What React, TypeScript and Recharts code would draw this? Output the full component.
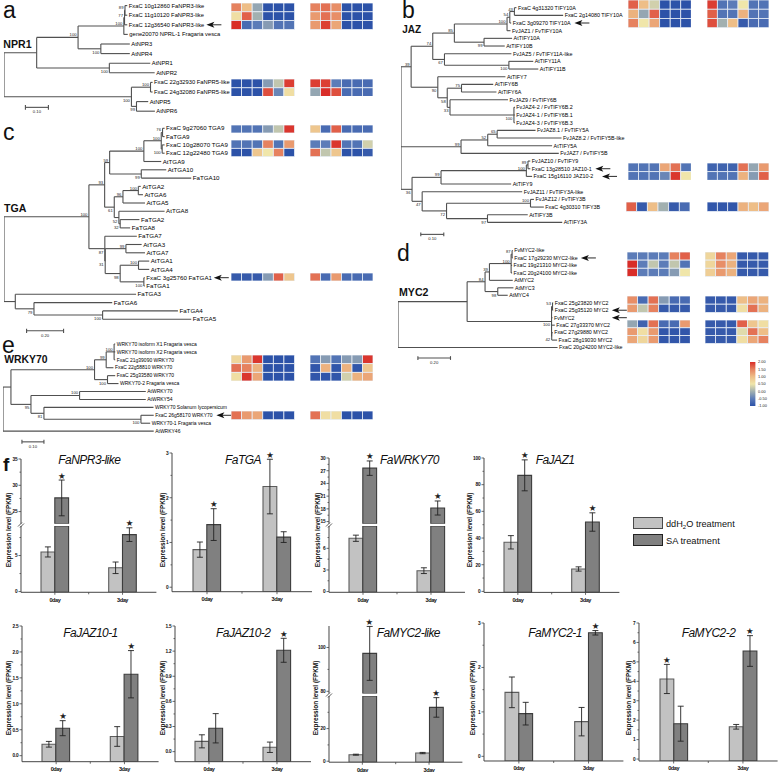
import React from "react";
import {
  BarChart,
  Bar,
  ErrorBar,
  XAxis,
  YAxis,
  ReferenceDot,
  ReferenceLine,
  Scatter,
  ScatterChart,
} from "recharts";

const FONT = '"Liberation Sans", Arial, sans-serif';

type TreeNode = { len: number; name?: string; boot?: number; kids?: TreeNode[] };
const L = (name: string, len: number): TreeNode => ({ name, len });
const N = (len: number, boot: number | undefined, ...kids: TreeNode[]): TreeNode => ({ len, boot, kids });

// branch lengths are in 0.001 substitutions per site, read against each scale bar
const npr1Tree = [
  N(142, undefined,
    N(180, 100,
      N(199, 100,
        N(3, 77,
          N(2, 89, L("FxaC 10g12860 FaNPR3-like", 10), L("FxaC 11g10120 FaNPR3-like", 10)),
          L("FxaC 12g36540 FaNPR3-like", 12)),
        L("gene20070 NPRL-1 Fragaria vesca", 17)),
      N(99, 100, L("AtNPR3", 126), L("AtNPR4", 126))),
    N(316, 100, L("AtNPR1", 178), L("AtNPR2", 197))),
  N(554, 100,
    N(83, 100, L("FxaC 22g32930 FaNPR5-like", 9), L("FxaC 24g32080 FaNPR5-like", 9)),
    N(22, 99, L("AtNPR5", 51), L("AtNPR6", 80))),
];

const jazTree = [
  N(44, 39,
    N(94, 74,
      N(94, 85,
        N(229, 100,
          N(12, 54,
            N(20, 43, L("FxaC 4g31320 TIFY10A", 9), L("FxaC 2g14080 TIFY10A", 212)),
            L("FxaC 3g09270 TIFY10A", 6)),
          L("FvJAZ1 / FvTIFY10A", 15)),
        N(129, 99, L("AtTIFY10A", 122), L("AtTIFY10B", 90))),
      N(51, 67,
        L("FvJAZ5 / FvTIFY11A-like", 291),
        N(280, 100, L("AtTIFY11A", 106), L("AtTIFY11B", 128)))),
    N(116, 90,
      L("AtTIFY7", 294),
      N(41, 58,
        N(62, 75, L("AtTIFY6B", 138), L("AtTIFY6A", 152)),
        N(12, 33,
          L("FvJAZ9 / FvTIFY6B", 252),
          N(278, 100, L("FvJAZ4-2 / FvTIFY6B.2", 4), L("FvJAZ4-1 / FvTIFY6B.1", 4), L("FvJAZ4-3 / FvTIFY6B.3", 4)))))),
  N(261, 99,
    N(116, 52,
      N(41, 65, L("FvJAZ8.1 / FvTIFY5A", 167), L("FvJAZ8.2 / FvTIFY5B-like", 280)),
      L("AtTIFY5A", 280)),
    L("FvJAZ7 / FvTIFY5B", 425)),
  N(48, 36,
    N(126, 99,
      N(371, 100,
        N(7, 89, L("FvJAZ10 / FvTIFY9", 10), L("FxaC 13g28510 JAZ10-1", 10)),
        L("FxaC 15g16110 JAZ10-2", 25)),
      L("AtTIFY9", 305)),
    N(44, 47,
      L("FvJAZ11 / FvTIFY3A-like", 435),
      N(106, 72,
        N(365, 100, L("FvJAZ12 / FvTIFY3B", 15), L("FxaC 4g30310 TIFY3B", 58)),
        N(178, 97, L("AtTIFY3B", 175), L("AtTIFY3A", 325))))),
];

const tgaTree = [
  N(459, 100,
    N(85, 93,
      N(27, 59,
        N(185, 100,
          N(94, 100,
            N(7, 76, L("FxaC 9g27060 TGA9", 11), L("FaTGA9", 11)),
            N(5, 100, L("FxaC 10g28070 TGA9", 13), L("FxaC 12g22480 TGA9", 13))),
          L("AtTGA9", 94)),
        N(171, 99, L("AtTGA10", 135), L("FaTGA10", 270))),
      N(52, 61,
        N(47, 96,
          N(83, 100, L("AtTGA2", 13), L("AtTGA6", 25)),
          L("AtTGA5", 119)),
        N(25, 52,
          L("AtTGA8", 247),
          N(7, 32, L("FaTGA2", 104), L("FaTGA8", 54))))),
    N(86, 87,
      L("FaTGA7", 173),
      N(2, 31,
        N(112, 99, L("AtTGA3", 85), L("AtTGA7", 103)),
        N(81, 98,
          N(99, 100, L("AtTGA1", 58), L("AtTGA4", 58)),
          N(128, 100, L("FxaC 3g25760 FaTGA1", 5), L("FaTGA1", 5)))))),
  N(61, undefined,
    L("FaTGA3", 653),
    N(101, 79,
      L("FaTGA6", 423),
      N(371, 100, L("FaTGA4", 407), L("FaTGA5", 479)))),
];

const mycTree = [
  N(424, undefined,
    N(110, 84,
      N(27, 39,
        N(133, 100,
          N(6, 87, L("FvMYC2-like", 4), L("FxaC 17g29230 MYC2-like", 4)),
          L("FxaC 19g21310 MYC2-like", 6),
          L("FxaC 20g24100 MYC2-like", 6)),
        L("AtMYC2", 143)),
      N(78, 98, L("AtMYC3", 96), L("AtMYC4", 61))),
    N(518, 100,
      N(6, 53, L("FxaC 25g23820 MYC2", 4), L("FxaC 25g35120 MYC2", 4)),
      L("FvMYC2", 6),
      L("FxaC 27g33370 MYC2", 20),
      N(1, 42, L("FxaC 27g29880 MYC2", 6), L("FxaC 28g19030 MYC2", 33)))),
  L("FxaC 20g24200 MYC2-like", 979),
];

const wrkyTree = [
  N(36, undefined,
    N(380, 100,
      N(53, 99,
        N(36, 100, L("WRKY70 isoform X1 Fragaria vesca", 5), L("WRKY70 isoform X2 Fragaria vesca", 5), L("FxaC 21g39090 WRKY70", 5)),
        L("FxaC 22g58810 WRKY70", 33)),
      N(59, 100, L("FxaC 25g33580 WRKY70", 35), L("WRKY70-2 Fragaria vesca", 50))),
    N(91, 95,
      N(221, 100, L("AtWRKY70", 301), L("AtWRKY54", 301)),
      N(59, 81,
        L("WRKY70 Solanum lycopersicum", 498),
        N(441, 100, L("FxaC 26g58170 WRKY70", 58), L("WRKY70-1 Fragaria vesca", 42))))),
  L("AtWRKY46", 685),
];

// heat map rows, six cells for the first block then six for the second
const heatA1 = [
  [1.5, 1.0, -0.1, -1, -1, -1, 1.5, 1.6, 1.4, -1, -1, -1],
  [0.6, 1.7, 0.0, -1, -1, -1, 1.3, 1.6, 1.4, -1, -1, -1],
  [2.0, -0.7, -0.5, -0.2, -0.6, -0.6, 1.3, 1.9, 1.2, -1, -1, -1],
];
const heatA2 = [
  [-1, -1, -1, -0.2, 0.2, 1.9, 1.9, 1.9, -0.5, -0.7, -0.7, -0.7],
  [-1, -1, -1, 1.8, -0.4, 0.6, -0.1, 2.0, 1.8, -0.7, -0.7, -0.7],
];
const heatB1 = [
  [1.7, 1.0, 0.3, -1, -1, -1, 1.9, -0.6, -0.5, 0.5, -0.6, -0.6],
  [1.1, -0.1, 1.7, -1, -1, -1, 1.7, -0.6, -0.6, 1.1, -0.6, -0.6],
  [1.5, 0.5, 1.2, -1, -1, -1, 1.8, 0, 1.0, -0.9, -0.7, -0.7],
];
const heatB2 = [
  [-0.6, -0.6, -0.6, 1.2, 1.6, -0.6, -0.8, -0.8, -0.8, 1.6, -0.1, 1.3],
  [-0.6, -0.6, -0.6, -0.4, 1.95, 0.5, -0.6, -0.6, -0.6, 1.1, -0.2, 1.7],
];
const heatB3 = [[1.7, -0.9, 1.0, 0.0, -0.9, -0.7, -0.95, -0.95, -0.95, 1.1, 1.0, 1.2]];
const heatC1 = [[-0.6, -0.6, -0.6, -0.2, 0.2, 1.95, 0.9, -0.7, 1.7, -0.7, -0.7, -0.7]];
const heatC2 = [
  [-0.6, -0.6, -0.6, 1.5, -0.6, 1.3, -0.5, -0.5, 1.95, -0.6, -0.6, 0.3],
  [-1, -1, 0.9, 0.5, 1.5, -1, 1.6, 0.2, 0.9, -1, -1, -0.9],
];
const heatC3 = [[-0.9, -0.9, -0.9, -0.2, 1.7, 0.9, 1.6, -0.7, 1.3, -0.7, -0.7, -0.7]];
const heatD1 = [
  [-0.5, -0.5, -0.5, -0.5, 1.5, 1.7, 0.7, 1.5, 1.2, -0.9, -0.9, -0.9],
  [2.0, -0.5, 0.2, -0.5, 0.2, -0.6, 0.7, 1.4, 1.1, -0.9, -0.9, -0.9],
  [2.0, -0.5, -0.5, -0.5, -0.2, 0.5, 0.8, 1.3, 1.1, -0.9, -0.9, -0.9],
];
const heatD2 = [
  [1.4, -0.7, 1.6, -0.2, -0.7, -0.7, -0.9, -0.9, -0.9, 1.0, 1.2, 1.1],
  [1.3, 0.2, 1.5, -0.9, -0.9, -0.9, -0.9, -0.9, -0.9, 0.6, 1.6, 1.1],
];
const heatD3 = [
  [-0.1, -0.8, 1.6, -0.7, -0.7, 1.3, -0.9, -0.9, -0.9, 1.7, 0.9, 0.6],
  [1.3, 0.6, 1.3, -0.95, -0.95, -0.95, -0.9, -0.9, -0.9, 0.4, 1.6, 1.0],
  [1.2, 0.7, 1.3, -0.95, -0.95, -0.95, -0.9, -0.9, -0.9, 0.6, 1.2, 1.5],
];
const heatE1 = [
  [0.7, 1.3, 1.95, -1, -1, -1, -0.6, -0.2, -0.6, -0.2, -0.2, 1.95],
  [1.6, 1.5, 1.1, -1, -1, -1, -0.95, 1.1, -0.95, 1.1, -0.95, 0.9],
  [0.6, 1.95, 1.2, -1, -1, -1, -0.95, -0.95, -0.95, 0.3, 1.1, 1.2],
];
const heatE2 = [[1.6, 1.3, 1.2, -1, -1, -1, 1.6, 0.6, 0.6, -1, -1, -1]];

const heatStops: [number, number[]][] = [
  [-1, [44, 82, 168]],
  [-0.5, [92, 124, 184]],
  [0, [162, 176, 176]],
  [0.5, [240, 230, 170]],
  [1, [238, 190, 135]],
  [1.5, [230, 130, 95]],
  [2, [217, 45, 40]],
];
const heatTicks = [2, 1.5, 1, 0.5, 0, -0.5, -1];

function heatColor(v: number) {
  for (let i = 1; i < heatStops.length; i++) {
    const [v0, c0] = heatStops[i - 1];
    const [v1, c1] = heatStops[i];
    if (v <= v1) {
      const t = (v - v0) / (v1 - v0);
      return `rgb(${c0.map((c, k) => Math.round(c + (c1[k] - c) * t)).join(" ")})`;
    }
  }
  return "rgb(217 45 40)";
}

function layoutTree(tree: TreeNode[]) {
  const segs: { x1: number; y1: number; x2: number; y2: number }[] = [];
  const leaves: { x: number; y: number; name: string }[] = [];
  const boots: { x: number; y: number; boot: number; last: boolean }[] = [];
  let row = 0;
  const walk = (node: TreeNode, px: number, last: boolean): number => {
    const x = px + node.len;
    let y: number;
    if (node.kids) {
      const ys = node.kids.map((k, i) => walk(k, x, i === node.kids!.length - 1));
      y = (ys[0] + ys[ys.length - 1]) / 2;
      segs.push({ x1: x, y1: ys[0], x2: x, y2: ys[ys.length - 1] });
      if (node.boot !== undefined) boots.push({ x, y, boot: node.boot, last });
    } else {
      y = row++;
      leaves.push({ x, y, name: node.name! });
    }
    segs.push({ x1: px, y1: y, x2: x, y2: y });
    return y;
  };
  const ys = tree.map((k, i) => walk(k, 0, i === tree.length - 1));
  segs.push({ x1: 0, y1: ys[0], x2: 0, y2: ys[ys.length - 1] });
  return { segs, leaves, boots, rows: row };
}

function Tree({ tree, left, top, rowH, pxPerUnit, fontSize, scale, arrows }: any) {
  const { segs, leaves, boots, rows } = layoutTree(tree);
  const width = 390;
  const height = (rows + 5) * rowH;
  const bar = [
    { x1: scale.x, y1: scale.row, x2: scale.x + scale.len, y2: scale.row },
    { x1: scale.x, y1: scale.row - 0.25, x2: scale.x, y2: scale.row + 0.25 },
    { x1: scale.x + scale.len, y1: scale.row - 0.25, x2: scale.x + scale.len, y2: scale.row + 0.25 },
  ];
  return (
    <div style={{ position: "absolute", left, top: top - rowH }}>
      <ScatterChart width={width} height={height} margin={{ top: 0, right: 0, bottom: 0, left: 0 }}>
        <XAxis type="number" dataKey="x" domain={[0, width / pxPerUnit]} allowDataOverflow hide />
        <YAxis type="number" dataKey="y" domain={[-1, rows + 4]} allowDataOverflow reversed hide />
        {[...segs, ...bar].map((s, i) => (
          <ReferenceLine
            key={i}
            segment={[{ x: s.x1, y: s.y1 }, { x: s.x2, y: s.y2 }]}
            ifOverflow="visible"
            stroke="#505050"
            strokeWidth={1.1}
          />
        ))}
        <Scatter
          data={leaves}
          isAnimationActive={false}
          shape={(p: any) => (
            <text x={p.cx + 1.5} y={p.cy + fontSize * 0.35} fontSize={fontSize} fontFamily={FONT} fill="#000">
              {p.payload.name}
            </text>
          )}
        />
        <Scatter
          data={boots}
          isAnimationActive={false}
          shape={(p: any) => (
            <text
              x={p.cx - 1.5}
              y={p.cy + (p.payload.last ? 5 : -1)}
              fontSize={4.2}
              fontFamily={FONT}
              textAnchor="end"
              fill="#222"
            >
              {p.payload.boot}
            </text>
          )}
        />
        <Scatter
          data={[{ x: scale.x + scale.len / 2, y: scale.row, label: scale.label }]}
          isAnimationActive={false}
          shape={(p: any) => (
            <text x={p.cx} y={p.cy + 6} fontSize={4.2} fontFamily={FONT} textAnchor="middle" fill="#222">
              {p.payload.label}
            </text>
          )}
        />
        <Scatter
          data={arrows}
          isAnimationActive={false}
          shape={(p: any) => (
            <g>
              <line x1={p.cx + 4} y1={p.cy} x2={p.cx + 15} y2={p.cy} stroke="#111" strokeWidth={0.9} />
              <path d={`M${p.cx} ${p.cy}L${p.cx + 8} ${p.cy - 3}L${p.cx + 6} ${p.cy}L${p.cx + 8} ${p.cy + 3}Z`} fill="#111" />
            </g>
          )}
        />
      </ScatterChart>
    </div>
  );
}

function HeatBlock({ rows, x0, x1, y0, y1 }: any) {
  const w = x1 - x0;
  const h = y1 - y0;
  const cells = rows.flatMap((r: number[], ri: number) =>
    r.map((v, ci) => ({ x: ci + 0.5, y: ri + 0.5, v }))
  );
  const cw = w / 6;
  const ch = h / rows.length;
  return (
    <div style={{ position: "absolute", left: x0, top: y0 }}>
      <ScatterChart width={w} height={h} margin={{ top: 0, right: 0, bottom: 0, left: 0 }}>
        <XAxis type="number" dataKey="x" domain={[0, 6]} hide />
        <YAxis type="number" dataKey="y" domain={[0, rows.length]} reversed hide />
        <Scatter
          data={cells}
          isAnimationActive={false}
          shape={(p: any) => (
            <rect
              x={p.cx - cw / 2}
              y={p.cy - ch / 2}
              width={cw}
              height={ch}
              fill={heatColor(p.payload.v)}
              stroke="#e8eef6"
              strokeWidth={0.8}
            />
          )}
        />
      </ScatterChart>
    </div>
  );
}

function HeatPair({ rows, left, right, y0, y1 }: any) {
  return (
    <>
      <HeatBlock rows={rows.map((r: number[]) => r.slice(0, 6))} x0={left[0]} x1={left[1]} y0={y0} y1={y1} />
      <HeatBlock rows={rows.map((r: number[]) => r.slice(6))} x0={right[0]} x1={right[1]} y0={y0} y1={y1} />
    </>
  );
}

function HeatScale() {
  return (
    <div style={{ position: "absolute", left: 750, top: 359 }}>
      <BarChart
        width={24}
        height={50}
        data={[{ name: "scale", range: [-1, 2] }]}
        margin={{ top: 3, right: 0, bottom: 3, left: 0 }}
      >
        <defs>
          <linearGradient id="heatRamp" x1="0" y1="0" x2="0" y2="1">
            {[...heatStops].reverse().map(([v]) => (
              <stop key={v} offset={`${((2 - v) / 3) * 100}%`} stopColor={heatColor(v)} />
            ))}
          </linearGradient>
        </defs>
        <XAxis dataKey="name" hide />
        <YAxis
          orientation="right"
          width={18}
          domain={[-1, 2]}
          ticks={heatTicks}
          interval={0}
          axisLine={false}
          tickLine={false}
          tickSize={0}
          tickMargin={2}
          tickFormatter={(v: number) => v.toFixed(2)}
          tick={{ fontSize: 3.9, fontFamily: FONT, fill: "#222" }}
        />
        <Bar dataKey="range" fill="url(#heatRamp)" barSize={6} isAnimationActive={false} />
      </BarChart>
    </div>
  );
}

const days = ["0day", "3day"];
const npr3Ddh = [5.5, 3.3];
const npr3DdhErr = [0.7, 0.8];
const npr3Sa = [27.6, 7.9];
const npr3SaErr = [3.4, 0.95];
const tgaDdh = [0.84, 2.25];
const tgaDdhErr = [0.17, 0.61];
const tgaSa = [1.4, 1.12];
const tgaSaErr = [0.355, 0.12];
const wrkyDdh = [7.4, 2.9];
const wrkyDdhErr = [0.43, 0.4];
const wrkySa = [27.6, 18.2];
const wrkySaErr = [1.7, 1.66];
const jaz1Ddh = [36.8, 16.8];
const jaz1DdhErr = [5, 1.6];
const jaz1Sa = [87, 52];
const jaz1SaErr = [11.6, 6.9];
const jaz101Ddh = [0.22, 0.37];
const jaz101DdhErr = [0.055, 0.19];
const jaz101Sa = [0.53, 1.57];
const jaz101SaErr = [0.145, 0.456];
const jaz102Ddh = [0.123, 0.052];
const jaz102DdhErr = [0.078, 0.062];
const jaz102Sa = [0.279, 1.21];
const jaz102SaErr = [0.175, 0.143];
const mycLikeDdh = [4, 5];
const mycLikeDdhErr = [0.3, 0.4];
const mycLikeSa = [97.3, 33];
const mycLikeSaErr = [12.3, 6];
const myc1Ddh = [1.44, 0.78];
const myc1DdhErr = [0.345, 0.32];
const myc1Sa = [0.96, 2.78];
const myc1SaErr = [0.255, 0.05];
const myc2Ddh = [4.12, 1.66];
const myc2DdhErr = [0.75, 0.12];
const myc2Sa = [1.82, 5.56];
const myc2SaErr = [0.9, 0.79];

const exprCharts: any[] = [
  {
    title: "FaNPR3-like", titleX: 58.3, titleY: 465, axisX: 20.7, band: 67.7, labelX: 8, labelY: 530,
    ddh: npr3Ddh, ddhErr: npr3DdhErr, sa: npr3Sa, saErr: npr3SaErr, stars: [[0, "sa"], [1, "sa"]],
    panels: [
      { domain: [22.7, 35], top: 459.3, bottom: 524, major: [25, 30, 35], minor: [27.5, 32.5] },
      { domain: [-0.1, 9.1], top: 526, bottom: 592.3, major: [0, 5], minor: [2.5, 7.5] },
    ],
  },
  {
    title: "FaTGA", titleX: 225, titleY: 465, axisX: 172, band: 70, labelX: 161.7, labelY: 530,
    ddh: tgaDdh, ddhErr: tgaDdhErr, sa: tgaSa, saErr: tgaSaErr, stars: [[0, "sa"], [1, "ddh"]],
    panels: [{ domain: [-0.1, 3], top: 453.3, bottom: 592, major: [0, 1, 2, 3], minor: [0.5, 1.5, 2.5] }],
  },
  {
    title: "FaWRKY70", titleX: 380, titleY: 465, axisX: 329.3, band: 68, labelX: 317, labelY: 530,
    ddh: wrkyDdh, ddhErr: wrkyDdhErr, sa: wrkySa, saErr: wrkySaErr, stars: [[0, "sa"], [1, "sa"]],
    panels: [
      { domain: [14.5, 30], top: 458.3, bottom: 524, major: [15, 18, 21, 24, 27, 30], minor: [16.5, 19.5, 22.5, 25.5, 28.5] },
      { domain: [-0.1, 9.1], top: 526, bottom: 592.3, major: [0, 3, 6], minor: [1.5, 4.5, 7.5] },
    ],
  },
  {
    title: "FaJAZ1", titleX: 535.7, titleY: 465, axisX: 484, band: 67.7, labelX: 469, labelY: 530,
    ddh: jaz1Ddh, ddhErr: jaz1DdhErr, sa: jaz1Sa, saErr: jaz1SaErr, stars: [[0, "sa"], [1, "sa"]],
    panels: [{ domain: [-0.75, 100], top: 458.3, bottom: 592.7, major: [0, 20, 40, 60, 80, 100], minor: [10, 30, 50, 70, 90] }],
  },
  {
    title: "FaJAZ10-1", titleX: 63.3, titleY: 637.7, axisX: 21.7, band: 68.3, labelX: 8, labelY: 698,
    ddh: jaz101Ddh, ddhErr: jaz101DdhErr, sa: jaz101Sa, saErr: jaz101SaErr, stars: [[0, "sa"], [1, "sa"]],
    panels: [{ domain: [-0.116, 2.5], top: 626, bottom: 761.7, major: [0, 0.5, 1, 1.5, 2, 2.5], minor: [0.25, 0.75, 1.25, 1.75, 2.25], digits: 1 }],
  },
  {
    title: "FaJAZ10-2", titleX: 216, titleY: 637.7, axisX: 175, band: 68, labelX: 161.7, labelY: 698,
    ddh: jaz102Ddh, ddhErr: jaz102DdhErr, sa: jaz102Sa, saErr: jaz102SaErr, stars: [[1, "sa"]],
    panels: [{ domain: [-0.12, 1.5], top: 626, bottom: 761.7, major: [0, 0.3, 0.6, 0.9, 1.2, 1.5], minor: [0.15, 0.45, 0.75, 1.05, 1.35], digits: 1 }],
  },
  {
    title: "FaMYC2-like", titleX: 376.7, titleY: 637.7, axisX: 329.3, band: 66.7, labelX: 315, labelY: 698,
    ddh: mycLikeDdh, ddhErr: mycLikeDdhErr, sa: mycLikeSa, saErr: mycLikeSaErr, stars: [[0, "sa"], [1, "sa"]],
    panels: [
      { domain: [79, 109.8], top: 626, bottom: 693.5, major: [80, 100], minor: [90] },
      { domain: [-0.6, 40], top: 695.5, bottom: 761.7, major: [0, 20], minor: [10, 30] },
    ],
  },
  {
    title: "FaMYC2-1", titleX: 528.3, titleY: 637.7, axisX: 484, band: 69.7, labelX: 471.7, labelY: 698,
    ddh: myc1Ddh, ddhErr: myc1DdhErr, sa: myc1Sa, saErr: myc1SaErr, stars: [[1, "sa"]],
    panels: [{ domain: [-0.105, 3], top: 622.7, bottom: 760.7, major: [0, 1, 2, 3], minor: [0.5, 1.5, 2.5] }],
  },
  {
    title: "FaMYC2-2", titleX: 681.7, titleY: 637.7, axisX: 639, band: 69.3, labelX: 627.7, labelY: 698,
    ddh: myc2Ddh, ddhErr: myc2DdhErr, sa: myc2Sa, saErr: myc2SaErr, stars: [[0, "ddh"], [1, "sa"]],
    panels: [{ domain: [-0.1, 7], top: 622.7, bottom: 760.7, major: [0, 1, 2, 3, 4, 5, 6, 7], minor: [0.5, 1.5, 2.5, 3.5, 4.5, 5.5, 6.5] }],
  },
];

const BAR_W = 13.8;
const AXIS_W = 20;
const TOP_PAD = 14;
const X_H = 16;

function ExprPanel({ c, p, showX }: any) {
  const [dMin, dMax] = p.domain;
  const clip = (v: number) => (v < dMin ? null : [dMin, Math.min(v, dMax)]);
  const inside = (v: number, e: number) => (v >= dMin && v <= dMax ? e : null);
  const data = days.map((day, i) => ({
    day,
    ddh: clip(c.ddh[i]),
    ddhErr: inside(c.ddh[i], c.ddhErr[i]),
    sa: clip(c.sa[i]),
    saErr: inside(c.sa[i], c.saErr[i]),
  }));
  const plotH = p.bottom - p.top;
  const stars = c.stars
    .map(([i, key]: any) => ({ i, key, v: c[key][i], e: c[key + "Err"][i] }))
    .filter((s: any) => s.v >= dMin && s.v <= dMax);
  const bottomPad = showX ? X_H : 0;
  return (
    <div style={{ position: "absolute", left: c.axisX - AXIS_W, top: p.top - TOP_PAD }}>
      <BarChart
        width={AXIS_W + 2 * c.band + 4}
        height={TOP_PAD + plotH + bottomPad}
        data={data}
        barGap={0}
        barSize={BAR_W}
        margin={{ top: TOP_PAD, right: 4, bottom: 0, left: 0 }}
      >
        <XAxis
          dataKey="day"
          hide={!showX}
          height={X_H}
          tickSize={0}
          tickMargin={0}
          interval={0}
          tickLine={false}
          stroke="#444"
          tick={(t: any) => (
            <g>
              <line x1={t.x} x2={t.x} y1={t.y} y2={t.y + 2.5} stroke="#444" strokeWidth={0.8} />
              {t.index === 0 && (
                <line x1={t.x + c.band / 2} x2={t.x + c.band / 2} y1={t.y} y2={t.y + 2} stroke="#444" strokeWidth={0.8} />
              )}
              <text
                x={t.x}
                y={t.y + 9.5}
                textAnchor="middle"
                fontSize={5.6}
                fontWeight={700}
                letterSpacing={-0.45}
                fontFamily={FONT}
                fill="#111"
              >
                {t.payload.value}
              </text>
            </g>
          )}
        />
        <YAxis
          width={AXIS_W}
          domain={p.domain}
          allowDataOverflow
          ticks={[...p.major, ...p.minor]}
          interval={0}
          tickSize={0}
          tickMargin={0}
          tickLine={false}
          stroke="#444"
          tick={(t: any) => {
            const isMajor = p.major.includes(t.payload.value);
            return (
              <g>
                <line x1={t.x} x2={t.x - (isMajor ? 2.5 : 1.5)} y1={t.y} y2={t.y} stroke="#444" strokeWidth={0.8} />
                {isMajor && (
                  <text
                    x={t.x - 3.5}
                    y={t.y + 1.8}
                    textAnchor="end"
                    fontSize={4.8}
                    fontWeight={700}
                    letterSpacing={-0.2}
                    fontFamily={FONT}
                    fill="#111"
                  >
                    {p.digits ? t.payload.value.toFixed(p.digits) : t.payload.value}
                  </text>
                )}
              </g>
            );
          }}
        />
        <Bar dataKey="ddh" fill="#c2c2c2" stroke="#5c5c5c" strokeWidth={1.1} isAnimationActive={false}>
          <ErrorBar dataKey="ddhErr" width={3} stroke="#222" strokeWidth={0.9} />
        </Bar>
        <Bar dataKey="sa" fill="#808080" stroke="#3c3c3c" strokeWidth={1.1} isAnimationActive={false}>
          <ErrorBar dataKey="saErr" width={3} stroke="#222" strokeWidth={0.9} />
        </Bar>
        {stars.map((s: any) => (
          <ReferenceDot
            key={s.key + s.i}
            x={days[s.i]}
            y={s.v + s.e}
            ifOverflow="visible"
            shape={(d: any) => (
              <text
                x={d.cx + (s.key === "sa" ? BAR_W / 2 : -BAR_W / 2)}
                y={d.cy - 1.5}
                textAnchor="middle"
                fontSize={8.5}
                fontFamily='"DejaVu Sans", sans-serif'
                fill="#222"
              >
                ★
              </text>
            )}
          />
        ))}
      </BarChart>
    </div>
  );
}

function BreakMark({ x, y }: { x: number; y: number }) {
  return (
    <svg style={{ position: "absolute", left: x - 4, top: y - 4 }} width={8} height={8}>
      <rect x={0} y={3} width={8} height={2} fill="#fff" />
      <line x1={1} y1={5.5} x2={5} y2={1.5} stroke="#333" strokeWidth={0.8} />
      <line x1={3} y1={6.5} x2={7} y2={2.5} stroke="#333" strokeWidth={0.8} />
    </svg>
  );
}

function ExprChart({ c }: any) {
  return (
    <>
      {c.panels.map((p: any, i: number) => (
        <ExprPanel key={i} c={c} p={p} showX={i === c.panels.length - 1} />
      ))}
      {c.panels.length > 1 && <BreakMark x={c.axisX} y={(c.panels[0].bottom + c.panels[1].top) / 2} />}
      <div
        style={{
          position: "absolute",
          left: c.titleX,
          top: c.titleY - 12,
          fontFamily: FONT,
          fontStyle: "italic",
          fontSize: 12,
          letterSpacing: -0.55,
          lineHeight: "15px",
          color: "#111",
          whiteSpace: "nowrap",
        }}
      >
        {c.title}
      </div>
      <div
        style={{
          position: "absolute",
          left: c.labelX,
          top: c.labelY,
          transform: "translate(-50%, -50%) rotate(-90deg)",
          fontFamily: FONT,
          fontWeight: 700,
          fontSize: 6.4,
          color: "#111",
          whiteSpace: "nowrap",
        }}
      >
        Expression level (FPKM)
      </div>
    </>
  );
}

// y is the text baseline
function Tag({ x, y, size, bold, children }: any) {
  const lh = size * 0.72;
  return (
    <div
      style={{
        position: "absolute",
        left: x,
        top: y - lh / 2 - size * 0.3465,
        fontFamily: FONT,
        fontSize: size,
        fontWeight: bold ? 700 : 400,
        lineHeight: `${lh}px`,
        color: "#111",
        whiteSpace: "nowrap",
      }}
    >
      {children}
    </div>
  );
}

function Swatch({ y, fill, stroke }: any) {
  return (
    <div
      style={{
        position: "absolute",
        left: 633,
        top: y,
        width: 28,
        height: 10,
        background: fill,
        border: `1px solid ${stroke}`,
      }}
    />
  );
}

export default function App() {
  const leftA = [231, 294.5];
  const rightA = [310, 373];
  const leftB = [627.7, 691];
  const rightB = [707, 769];
  const leftD = [626.7, 690];
  const rightD = [705, 768.7];
  return (
    <div style={{ position: "absolute", left: 0, top: 0, width: 778, height: 772, background: "#fff", overflow: "hidden" }}>
      <Tree tree={npr1Tree} left={4.3} top={6} rowH={9.6} pxPerUnit={0.23} fontSize={5.8}
        scale={{ x: 93, row: 10.6, len: 100, label: "0.10" }} arrows={[{ x: 880, y: 2 }]} />
      <Tree tree={jazTree} left={400.7} top={8} rowH={7.67} pxPerUnit={0.23} fontSize={5.4}
        scale={{ x: 86, row: 29.56, len: 100, label: "0.10" }}
        arrows={[{ x: 754, y: 2 }, { x: 845, y: 21 }, { x: 874, y: 22 }]} />
      <Tree tree={tgaTree} left={4.3} top={128.7} rowH={8.3} pxPerUnit={0.185} fontSize={6.2}
        scale={{ x: 122, row: 24.4, len: 200, label: "0.20" }} arrows={[{ x: 1134, y: 18 }]} />
      <Tree tree={mycTree} left={398.3} top={250} rowH={7.47} pxPerUnit={0.163} fontSize={5.3}
        scale={{ x: 122, row: 14.4, len: 200, label: "0.20" }}
        arrows={[{ x: 1122, y: 1 }, { x: 1312, y: 8 }, { x: 1312, y: 9 }]} />
      <Tree tree={wrkyTree} left={2.7} top={344.3} rowH={7.93} pxPerUnit={0.22} fontSize={5}
        scale={{ x: 86, row: 12.35, len: 100, label: "0.10" }} arrows={[{ x: 970, y: 9 }]} />

      <HeatPair rows={heatA1} left={leftA} right={rightA} y0={3.3} y1={29.7} />
      <HeatPair rows={heatA2} left={leftA} right={rightA} y0={78.7} y1={96.3} />
      <HeatPair rows={heatC1} left={leftA} right={rightA} y0={124.7} y1={132.7} />
      <HeatPair rows={heatC2} left={leftA} right={rightA} y0={140.3} y1={157} />
      <HeatPair rows={heatC3} left={leftA} right={rightA} y0={273} y1={281} />
      <HeatPair rows={heatE1} left={leftA} right={rightA} y0={355.3} y1={381.3} />
      <HeatPair rows={heatE2} left={leftA} right={rightA} y0={411} y1={419.7} />
      <HeatPair rows={heatB1} left={leftB} right={rightB} y0={0} y1={27.7} />
      <HeatPair rows={heatB2} left={leftB} right={rightB} y0={162.7} y1={180} />
      <HeatPair rows={heatB3} left={[626, 690]} right={rightB} y0={202.3} y1={211.7} />
      <HeatPair rows={heatD1} left={leftD} right={rightD} y0={252.3} y1={276.7} />
      <HeatPair rows={heatD2} left={leftD} right={rightD} y0={296.3} y1={312.7} />
      <HeatPair rows={heatD3} left={leftD} right={rightD} y0={320.3} y1={343.7} />
      <HeatScale />

      {exprCharts.map((c) => (
        <ExprChart key={c.title} c={c} />
      ))}

      <Swatch y={517.3} fill="#c2c2c2" stroke="#4a4a4a" />
      <Swatch y={534} fill="#808080" stroke="#222" />
      <Tag x={666} y={527.8} size={9.2}>
        ddH<span style={{ fontSize: 6, position: "relative", top: 1.5 }}>2</span>O treatment
      </Tag>
      <Tag x={666} y={544.3} size={9.3}>SA treatment</Tag>

      <Tag x={3} y={18.3} size={23}>a</Tag>
      <Tag x={402} y={18.3} size={23}>b</Tag>
      <Tag x={3} y={140} size={23}>c</Tag>
      <Tag x={397} y={261.7} size={23}>d</Tag>
      <Tag x={2} y={353} size={23}>e</Tag>
      <Tag x={3} y={471.7} size={19} bold>f</Tag>

      <Tag x={3.3} y={48.3} size={10.6} bold>NPR1</Tag>
      <Tag x={402.3} y={33} size={10} bold>JAZ</Tag>
      <Tag x={4} y={212.7} size={10.6} bold>TGA</Tag>
      <Tag x={399} y={296.7} size={10.6} bold>MYC2</Tag>
      <Tag x={4.3} y={363.7} size={10.4} bold>WRKY70</Tag>
    </div>
  );
}
